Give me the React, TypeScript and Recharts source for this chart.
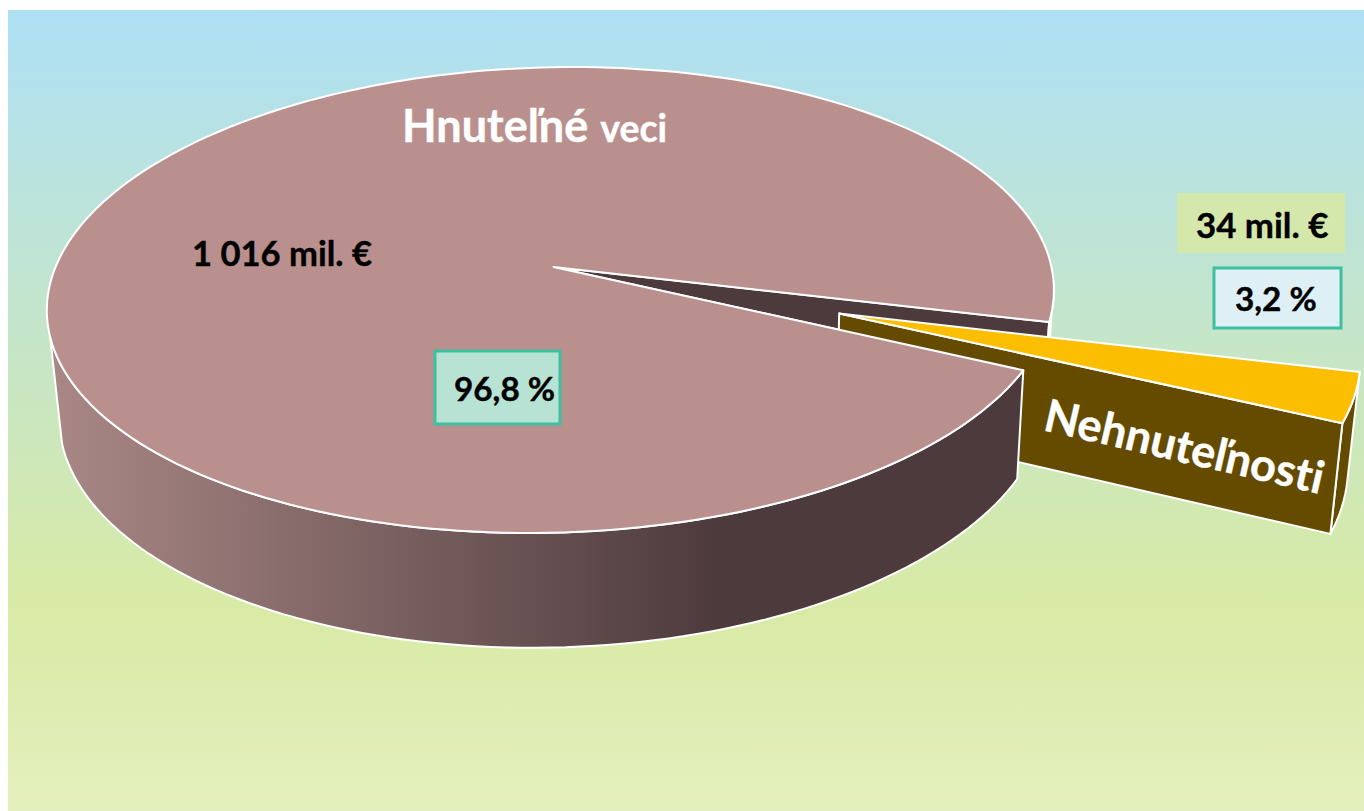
import React from 'react'
import { PieChart, Pie, Cell } from 'recharts'

const categories = ['Nehnuteľnosti', 'Hnuteľné veci']
const amounts = [34, 1016]
const topColors = ['#fcbe00', '#ba908e']

const WALL_BROWN = '#654b00'
const WALL_DARK = '#4d3a3c'
const TEAL = '#3cc0a0'
const FONT = 'Lato, sans-serif'

const chartData = categories.map((name, i) => ({ name, value: amounts[i] }))
const total = amounts.reduce((a, b) => a + b, 0)

const formatAmount = (v: number) => String(v).replace(/\B(?=(\d{3})+$)/g, ' ') + ' mil. €'
const formatShare = (v: number) => ((v / total) * 100).toFixed(1).replace('.', ',') + ' %'

// tilted view of the pie plane, far side is squeezed
const PERSPECTIVE = 0.1417
const TILT = 0.4584
const SKEW = -0.095
const EXPLODE = 0.6

type Pt = { x: number; y: number }

function project(cx: number, cy: number, r: number, angle: number, rim = 1, mid = 0, explode = 0): Pt {
  const a = (angle * Math.PI) / 180
  const m = (mid * Math.PI) / 180
  const px = rim * Math.cos(a) + explode * Math.cos(m)
  const py = rim * Math.sin(a) + explode * Math.sin(m)
  const w = 1 + PERSPECTIVE * py
  const dy = -(r * TILT * py) / w
  return { x: cx + (r * px) / w + SKEW * dy, y: cy + dy }
}

// same point on the underside of the disc
const lower = (p: Pt): Pt => ({ x: p.x + (687 - p.x) * 0.0186, y: p.y + 95.4 + 0.037 * p.y })

const toPath = (pts: Pt[]) => 'M' + pts.map((p) => `${p.x.toFixed(1)},${p.y.toFixed(1)}`).join('L') + 'Z'

function arc(from: number, to: number, fn: (a: number) => Pt): Pt[] {
  const steps = Math.max(2, Math.ceil(Math.abs(to - from) / 1.5))
  const out: Pt[] = []
  for (let i = 0; i <= steps; i++) out.push(fn(from + ((to - from) * i) / steps))
  return out
}

function SliceShape(props: any) {
  const { cx, cy, outerRadius: r, startAngle, endAngle, fill, name } = props
  const line = { stroke: '#fff', strokeWidth: 2, strokeLinejoin: 'round' as const }

  if (name === categories[0]) {
    const mid = (startAngle + endAngle) / 2
    const rimGap = (a: number) => project(cx, cy, r, a)
    const rimOut = (a: number) => project(cx, cy, r, a, 1, mid, EXPLODE)
    const centre = project(cx, cy, r, 0, 0)
    const apex = project(cx, cy, r, 0, 0, mid, EXPLODE)
    const rimTop = arc(startAngle, endAngle, rimOut)
    const sliver = arc(startAngle + 10, startAngle, rimGap)
    return (
      <g>
        <path
          d={toPath([centre, rimGap(startAngle), lower(rimGap(startAngle)), lower(centre), rimGap(endAngle)])}
          fill={WALL_DARK}
          {...line}
        />
        <path d={toPath([...sliver, ...sliver.slice().reverse().map(lower)])} fill={WALL_DARK} {...line} />
        <path d={toPath([...rimTop, ...rimTop.slice().reverse().map(lower)])} fill={WALL_BROWN} {...line} />
        <path d={toPath([apex, rimOut(endAngle), lower(rimOut(endAngle)), lower(apex)])} fill={WALL_BROWN} {...line} />
        <path d={toPath([apex, ...rimTop])} fill={fill} {...line} />
      </g>
    )
  }

  const rim = (a: number) => project(cx, cy, r, a)
  const front = arc(startAngle, -163, rim)
  return (
    <g>
      <path d={toPath([...front, ...front.slice().reverse().map(lower)])} fill="url(#discWall)" {...line} />
      <path d={toPath([project(cx, cy, r, 0, 0), ...arc(startAngle, endAngle, rim)])} fill={fill} {...line} />
    </g>
  )
}

function TextBox({ x, y, w, h, fill, border, tx, ty, size, children }: any) {
  return (
    <g>
      <rect x={x} y={y} width={w} height={h} fill={fill} stroke={border ?? 'none'} strokeWidth={3} />
      <text x={tx} y={ty} fontFamily={FONT} fontWeight={700} fontSize={size} fill="#000" stroke="#000" strokeWidth={0.4}>
        {children}
      </text>
    </g>
  )
}

function SliceLabels(props: any) {
  const { index, value } = props
  if (index === 0) {
    return (
      <g>
        <text
          transform="translate(1034,420) rotate(13)"
          fontFamily={FONT}
          fontWeight={700}
          fontSize={45}
          fill="#fff"
          stroke="#fff"
          strokeWidth={0.4}
          style={{ fontVariantLigatures: 'none' }}
        >
          {categories[0]}
        </text>
        <TextBox x={1169} y={183} w={168} h={60} fill="#d5e8ab" tx={1188} ty={228} size={34.8}>
          {formatAmount(value)}
        </TextBox>
        <TextBox x={1206} y={258} w={127} h={60} fill="#def0f6" border={TEAL} tx={1227} ty={301} size={33.3}>
          {formatShare(value)}
        </TextBox>
      </g>
    )
  }
  const [first, second] = categories[1].split(' ')
  return (
    <g>
      <text x={394} y={132} fontFamily={FONT} fontWeight={700} fill="#fff" stroke="#fff" strokeWidth={0.4} fontSize={45}>
        {first}
        <tspan fontSize={37.5} dx={12}>
          {second}
        </tspan>
      </text>
      <text x={184} y={256} fontFamily={FONT} fontWeight={700} fontSize={34.6} fill="#000" stroke="#000" strokeWidth={0.4}>
        {formatAmount(value)}
      </text>
      <TextBox x={427} y={341} w={125} h={73} fill="#b8e2d4" border={TEAL} tx={446} ty={391} size={33.3}>
        {formatShare(value)}
      </TextBox>
    </g>
  )
}

export default function App() {
  return (
    <div
      style={{
        position: 'absolute',
        left: 8,
        top: 10,
        width: 1356,
        height: 801,
        background: 'linear-gradient(180deg, #aee0f5 0%, #d8eaa5 74%, #e3f0bd 100%)',
      }}
    >
      <PieChart width={1356} height={801} margin={{ top: 0, right: 0, bottom: 0, left: 0 }}>
        <defs>
          <linearGradient id="discWall" gradientUnits="userSpaceOnUse" x1="42" y1="0" x2="712" y2="0">
            <stop offset="0%" stopColor="#a98886" />
            <stop offset="100%" stopColor={WALL_DARK} />
          </linearGradient>
        </defs>
        <Pie
          data={chartData}
          dataKey="value"
          nameKey="name"
          cx={545.5}
          cy={257}
          innerRadius={0}
          outerRadius={498}
          startAngle={-13.5}
          endAngle={-373.5}
          stroke="none"
          shape={SliceShape}
          label={SliceLabels}
          labelLine={false}
          isAnimationActive={false}
        >
          {chartData.map((d, i) => (
            <Cell key={d.name} fill={topColors[i]} />
          ))}
        </Pie>
      </PieChart>
    </div>
  )
}
